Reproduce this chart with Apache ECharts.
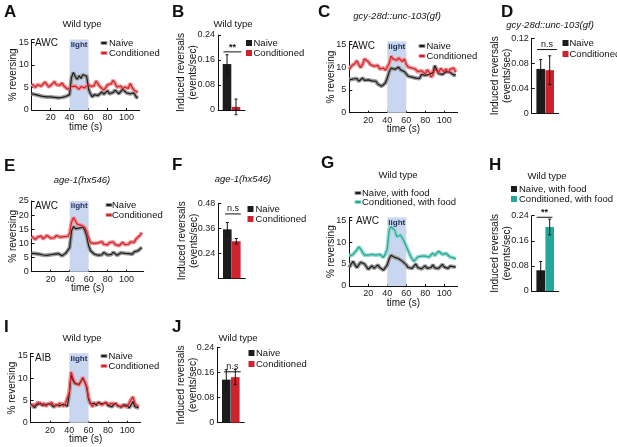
<!DOCTYPE html>
<html><head><meta charset="utf-8">
<script src="https://cdn.jsdelivr.net/npm/echarts@6/dist/echarts.min.js"></script>
<style>html,body{margin:0;padding:0;background:#fff}#c{width:617px;height:447px}</style>
</head><body><div id="c"></div><script>
// ---------- data ----------
const STEP = 2; // seconds between samples
const lightPeriod = [40, 60];
const xTickLabels = [20, 40, 60, 80, 100];

const naiveA = [3.6,3.8,3.4,3.0,3.2,2.8,3.0,3.3,2.9,2.7,2.9,2.6,2.8,2.6,2.7,2.5,2.8,2.6,3.0,3.2,3.4,7.2,8.3,7.4,6.8,7.6,7.0,7.8,8.2,7.5,4.6,3.6,2.9,3.4,3.8,3.2,3.6,4.0,3.5,3.9,4.3,3.6,3.3,3.9,4.4,4.0,3.6,3.9,4.6,4.2,3.8,4.1,3.6,3.3,3.8,3.0,2.6];
const condA  = [5.8,5.4,5.0,5.6,5.9,5.3,5.5,6.2,5.7,5.1,5.4,5.8,6.3,5.6,5.2,5.5,6.0,5.3,4.9,4.6,4.8,5.2,4.9,5.3,5.0,4.6,5.2,5.5,4.9,5.3,5.7,5.2,4.8,5.4,6.4,5.8,5.2,4.8,4.4,4.9,5.6,5.2,5.8,6.6,5.9,5.1,4.8,5.3,4.6,5.1,5.5,4.8,5.9,5.0,4.4,4.8,3.9];

const naiveC = [7.2,6.8,7.4,7.0,7.5,6.9,7.3,7.6,7.1,6.8,7.2,7.5,7.0,6.6,6.9,6.3,6.0,5.8,6.2,6.5,7.6,9.0,9.8,10.2,9.5,9.8,10.0,9.4,9.6,9.0,8.6,8.0,8.2,7.8,8.1,7.6,7.2,7.5,8.4,8.8,8.2,7.9,8.4,8.0,8.8,10.3,9.5,8.6,8.9,8.4,8.8,9.0,8.6,8.9,8.5,8.2,8.4];
const condC  = [9.5,10.2,9.8,10.8,11.4,10.5,9.9,10.6,11.8,12.0,11.2,10.6,10.9,10.2,9.8,10.4,9.6,9.4,9.8,9.3,9.0,10.8,12.4,11.8,12.1,11.5,12.0,11.6,11.2,11.8,10.6,10.0,10.4,9.8,10.2,9.5,9.0,8.7,9.2,8.8,8.5,9.4,8.9,7.8,8.3,9.6,9.2,8.8,9.7,9.4,9.0,9.6,8.8,9.5,9.2,9.8,8.9];

const naiveE = [6.5,7.2,6.4,5.8,6.2,5.6,5.9,6.3,5.8,5.5,6.0,5.7,6.2,5.8,6.4,6.1,5.6,6.0,6.6,6.2,8.5,14.5,16.0,15.2,14.6,15.4,14.8,15.8,14.6,12.5,9.2,7.4,6.8,6.2,6.6,5.8,6.3,6.0,6.8,6.4,5.9,6.5,6.1,6.9,6.3,5.8,6.2,6.7,6.1,6.5,5.9,6.4,6.8,6.2,7.0,6.6,7.4,7.9,8.6];
const condE  = [12.5,12.0,11.4,12.2,11.8,12.6,11.6,12.0,12.8,12.3,11.9,12.4,12.0,12.8,13.0,12.2,11.8,12.4,12.0,12.5,13.5,17.5,19.2,18.0,16.8,17.2,16.4,17.0,15.6,14.2,11.8,10.2,9.6,10.0,9.4,10.2,9.8,10.6,9.7,10.1,9.5,10.3,9.8,10.5,9.6,10.0,9.2,9.8,10.4,9.6,10.2,9.7,10.5,11.2,10.4,11.6,12.0,12.8,13.8];

const naiveG = [4.2,5.0,5.6,4.8,4.2,4.6,5.4,5.8,5.0,4.4,3.8,4.2,4.6,4.0,4.4,4.8,4.2,3.9,3.6,3.4,4.8,6.2,7.0,6.8,6.5,6.7,6.2,6.0,5.6,5.2,4.8,4.2,4.6,4.0,4.5,5.0,4.2,4.4,3.9,4.3,4.6,4.0,4.4,4.2,4.8,4.1,4.5,4.0,4.4,4.9,4.3,4.6,4.0,4.5,4.8,4.4,4.2];
const condG  = [6.8,6.5,7.2,7.6,8.2,8.9,8.4,7.6,7.0,7.3,7.0,6.6,7.2,7.5,7.0,6.8,7.2,6.9,6.5,7.3,8.5,12.8,13.5,13.2,12.6,11.2,11.0,11.6,10.8,10.0,9.0,8.0,7.0,6.2,5.6,6.0,6.6,6.2,6.8,6.4,6.8,7.2,6.6,7.0,7.5,6.9,7.4,7.9,7.6,7.2,6.8,7.4,7.0,6.6,6.9,6.4,6.1];

const naiveI = [4.2,3.8,3.4,4.0,3.6,4.4,3.9,3.5,4.1,3.8,4.3,3.9,3.5,4.0,4.4,3.8,3.6,4.2,3.9,3.7,6.5,10.8,9.4,8.8,9.0,8.6,9.0,10.0,9.2,8.0,5.2,4.2,3.8,4.4,3.9,4.6,5.0,4.2,3.8,4.5,3.9,4.2,3.6,4.0,4.4,3.8,4.1,3.5,4.0,3.7,3.9,3.3,4.0,4.8,3.6,4.0,3.3];
const condI  = [4.0,4.4,3.9,4.2,4.6,4.1,3.8,4.3,3.7,4.2,4.0,4.5,3.8,4.2,3.9,4.4,4.0,3.7,4.3,3.9,6.8,11.4,9.8,9.0,8.8,8.4,9.2,10.2,9.2,8.2,5.6,4.4,3.6,4.2,4.0,4.4,4.8,4.0,4.2,4.6,4.1,3.8,4.3,3.9,4.2,4.0,3.7,4.1,3.8,4.2,3.6,4.4,5.2,5.8,4.2,3.8,3.5];

// bar panels: [naive, conditioned] means and error
const barB = [0.147, 0.010], errB = [0.030, 0.025], sigB = [0.6, 2.6, 0.186];
const barD = [0.071, 0.069], errD = [0.015, 0.023], sigD = [0.6, 2.8, 0.102];
const barF = [0.355, 0.298], errF = [0.033, 0.013], sigF = [0.75, 2.5, 0.429];
const barH = [0.066, 0.204], errH = [0.028, 0.025], sigH = [0.55, 2.3, 0.235];
const barJ = [0.137, 0.145], errJ = [0.032, 0.024], sigJ = [0.75, 2.6, 0.162];

// ---------- style ----------
const FONT = '"Liberation Sans", Arial, Helvetica, sans-serif';
const BLACK = '#1c1c1c', BLACK_BAND = '#9c9c9c';
const RED = '#d0222e', RED_BAND = '#ee9494';
const TEAL = '#22a898', TEAL_BAND = '#98d9cf';
const LIGHT = '#c8d6ef';

const linePanels = [
  {g:[31.7, 39.6, 108, 70.4], xmax:114, ymax:15.6, naive:naiveA, cond:condA, cc:RED, cb:RED_BAND},
  {g:[349.3, 41.6, 108.3, 71.1], xmax:114, ymax:15.6, naive:naiveC, cond:condC, cc:RED, cb:RED_BAND},
  {g:[31.7, 201, 112, 70.7], xmax:118, ymax:25, naive:naiveE, cond:condE, cc:RED, cb:RED_BAND},
  {g:[349.3, 217.4, 108.3, 68.6], xmax:114, ymax:15.6, naive:naiveG, cond:condG, cc:TEAL, cb:TEAL_BAND},
  {g:[30.7, 353.3, 110, 69.4], xmax:114, ymax:15.6, naive:naiveI, cond:condI, cc:RED, cb:RED_BAND}
];
const barPanels = [
  {g:[218, 35, 27, 75], min:0, max:0.24, iv:0.08, vals:barB, errs:errB, sig:sigB, sigText:'**', cc:RED},
  {g:[531.7, 38.3, 27, 75], min:0, max:0.12, iv:0.04, vals:barD, errs:errD, sig:sigD, sigText:'n.s', cc:RED},
  {g:[218.3, 203.3, 27, 75], min:0.12, max:0.48, iv:0.12, vals:barF, errs:errF, sig:sigF, sigText:'n.s', cc:RED, hideMin:true},
  {g:[531.7, 215.7, 27, 75.3], min:0, max:0.24, iv:0.08, vals:barH, errs:errH, sig:sigH, sigText:'**', cc:TEAL},
  {g:[217.3, 347.3, 27, 75.4], min:0, max:0.24, iv:0.08, vals:barJ, errs:errJ, sig:sigJ, sigText:'n.s', cc:RED}
];

const grids = [], xAxes = [], yAxes = [], series = [], graphics = [];
const axLine = {show:true, onZero:false, lineStyle:{color:'#111', width:1}};

function txt(x, y, s, size, opt) {
  opt = opt || {};
  const font = (opt.italic ? 'italic ' : '') + (opt.bold ? 'bold ' : '') + size + 'px ' + FONT;
  graphics.push({type:'text', x:x, y:y, silent:true, z:10,
    style:{text:s, fill:opt.color || '#111', font:font,
      textAlign:opt.align || 'left', textVerticalAlign:'middle', align:opt.align || 'left', verticalAlign:'middle'}});
}
function rect(x, y, w, h, fill, stroke) {
  graphics.push({type:'rect', silent:true, z:10, shape:{x:x, y:y, width:w, height:h},
    style:{fill:fill, stroke:stroke || null, lineWidth:stroke ? 1 : 0}});
}

linePanels.forEach(p => {
  const gi = grids.length;
  grids.push({left:p.g[0], top:p.g[1], width:p.g[2], height:p.g[3], containLabel:false, outerBoundsMode:'none'});
  xAxes.push({gridIndex:gi, type:'value', min:0, max:p.xmax, interval:20,
    name:'time (s)', nameLocation:'middle', nameGap:12, nameMoveOverlap:false,
    nameTextStyle:{fontSize:10, color:'#111', fontFamily:FONT},
    axisLine:axLine, axisTick:{show:true, inside:true, length:2, lineStyle:{color:'#111'}},
    axisLabel:{fontSize:9, color:'#222', margin:3, fontFamily:FONT, showMinLabel:false, showMaxLabel:false,
      formatter:v => xTickLabels.indexOf(v) >= 0 ? String(v) : ''},
    splitLine:{show:false}});
  yAxes.push({gridIndex:gi, type:'value', min:0, max:p.ymax, interval:5,
    name:'% reversing', nameLocation:'middle', nameGap:13, nameMoveOverlap:false,
    nameTextStyle:{fontSize:10, color:'#111', fontFamily:FONT},
    axisLine:axLine, axisTick:{show:true, inside:true, length:3, lineStyle:{color:'#111'}},
    axisLabel:{fontSize:9, color:'#222', margin:3, fontFamily:FONT,
      formatter:v => (Math.abs(v % 5) < 1e-9) ? String(v) : ''},
    splitLine:{show:false}});
  const mk = d => d.map((v, k) => [k * STEP, v]);
  series.push({type:'line', xAxisIndex:gi, yAxisIndex:gi, data:mk(p.naive), symbol:'none', silent:true, z:1,
    lineStyle:{width:0, opacity:0},
    markArea:{silent:true, itemStyle:{color:LIGHT},
      label:{show:true, position:'insideTop', distance:1, formatter:'light', fontSize:8, fontWeight:'bold', color:'#1c2b57', fontFamily:FONT},
      data:[[{xAxis:lightPeriod[0]}, {xAxis:lightPeriod[1]}]]}});
  [[p.naive, BLACK, BLACK_BAND], [p.cond, p.cc, p.cb]].forEach(([d, c, b]) => {
    series.push({type:'line', xAxisIndex:gi, yAxisIndex:gi, data:mk(d), symbol:'none', silent:true, z:2,
      lineStyle:{width:4, color:b}});
    series.push({type:'line', xAxisIndex:gi, yAxisIndex:gi, data:mk(d), symbol:'none', silent:true, z:3,
      lineStyle:{width:1.2, color:c}});
  });
});

barPanels.forEach(p => {
  const gi = grids.length;
  grids.push({left:p.g[0], top:p.g[1], width:p.g[2], height:p.g[3], containLabel:false, outerBoundsMode:'none'});
  xAxes.push({gridIndex:gi, type:'value', min:0, max:3, axisLine:axLine, axisTick:{show:false},
    axisLabel:{show:false}, splitLine:{show:false}});
  yAxes.push({gridIndex:gi, type:'value', min:p.min, max:p.max, interval:p.iv,
    name:'Induced reversals\n(events/sec)', nameLocation:'middle', nameGap:18.5, nameMoveOverlap:false,
    nameTextStyle:{fontSize:10, lineHeight:12, color:'#111', fontFamily:FONT},
    axisLine:axLine, axisTick:{show:true, inside:true, length:3, lineStyle:{color:'#111'}},
    axisLabel:{fontSize:9, color:'#222', margin:3, fontFamily:FONT, showMinLabel:!p.hideMin},
    splitLine:{show:false}});
  series.push({type:'bar', xAxisIndex:gi, yAxisIndex:gi, barWidth:8.6, silent:true, z:2,
    data:[{value:[1, p.vals[0]], itemStyle:{color:BLACK}}, {value:[2, p.vals[1]], itemStyle:{color:p.cc}}]});
  series.push({type:'custom', xAxisIndex:gi, yAxisIndex:gi, silent:true, z:4, clip:false,
    data:[[1, p.vals[0], p.errs[0]], [2, p.vals[1], p.errs[1]]],
    renderItem:(params, api) => {
      const x = api.value(0), v = api.value(1), e = api.value(2);
      const t = api.coord([x, v + e]), b = api.coord([x, v - e]);
      const st = {stroke:'#111', lineWidth:1};
      return {type:'group', children:[
        {type:'line', shape:{x1:t[0], y1:t[1], x2:b[0], y2:b[1]}, style:st},
        {type:'line', shape:{x1:t[0]-1.5, y1:t[1], x2:t[0]+1.5, y2:t[1]}, style:st},
        {type:'line', shape:{x1:b[0]-1.5, y1:b[1], x2:b[0]+1.5, y2:b[1]}, style:st}
      ]};
    }});
  series.push({type:'custom', xAxisIndex:gi, yAxisIndex:gi, silent:true, z:4, clip:false,
    data:[p.sig],
    renderItem:(params, api) => {
      const a = api.coord([api.value(0), api.value(2)]), b = api.coord([api.value(1), api.value(2)]);
      return {type:'group', children:[
        {type:'line', shape:{x1:a[0], y1:a[1], x2:b[0], y2:b[1]}, style:{stroke:'#111', lineWidth:1}},
        {type:'text', x:(a[0]+b[0])/2, y:a[1] - (p.sigText === '**' ? 0 : 1),
          style:{text:p.sigText, fill:'#111', font:(p.sigText === '**' ? 'bold 9px ' : '9px ') + FONT,
            textAlign:'center', textVerticalAlign:'bottom', align:'center', verticalAlign:'bottom'}}
      ]};
    }});
});

// ---------- panel letters, titles, labels, legends ----------
[['A',4,12],['B',172,12],['C',318,12],['D',501,12],['E',4,166],['F',172,165],['G',321,163],['H',489,165],['I',4,327],['J',172,327]]
  .forEach(([s,x,y]) => txt(x, y, s, 17, {bold:true}));

[['Wild type',82,24,false],['Wild type',233,24,false],['gcy-28d::unc-103(gf)',397,16,true],['gcy-28d::unc-103(gf)',550,25,true],
 ['age-1(hx546)',82,180,true],['age-1(hx546)',243,179,true],['Wild type',398,175,false],['Wild type',547,176,false],
 ['Wild type',82,338,false],['Wild type',238,338,false]]
  .forEach(([s,x,y,it]) => txt(x, y, s, 9.5, {align:'center', italic:it}));

[['AWC',35,43.5],['AWC',352,46],['AWC',35,206.5],['AWC',356,221],['AIB',35,358]]
  .forEach(([s,x,y]) => txt(x, y, s, 10));

function legend(mx, tx, ys, labels, colors, bands, kind) {
  labels.forEach((l, k) => {
    if (kind === 'line') rect(mx, ys[k] - 1.5, 6, 3, colors[k], bands[k]);
    else rect(mx, ys[k] - 3, 6, 6, colors[k]);
    txt(tx, ys[k], l, 9.5);
  });
}
const NC = ['Naive', 'Conditioned'];
const NCF = ['Naive, with food', 'Conditioned, with food'];
legend(101, 109, [43,53], NC, [BLACK, RED], [BLACK_BAND, RED_BAND], 'line');
legend(246, 253.5, [43,53], NC, [BLACK, RED], null, 'bar');
legend(419, 426.5, [46,56], NC, [BLACK, RED], [BLACK_BAND, RED_BAND], 'line');
legend(562.5, 569.5, [43,54], NC, [BLACK, RED], null, 'bar');
legend(106, 112, [205,215], NC, [BLACK, RED], [BLACK_BAND, RED_BAND], 'line');
legend(247.5, 255.5, [209,219], NC, [BLACK, RED], null, 'bar');
legend(355, 362, [193,202], NCF, [BLACK, TEAL], [BLACK_BAND, TEAL_BAND], 'line');
legend(511, 519, [189,199], NCF, [BLACK, TEAL], null, 'bar');
legend(101, 108.5, [356,366], NC, [BLACK, RED], [BLACK_BAND, RED_BAND], 'line');
legend(248.5, 256, [353,364], NC, [BLACK, RED], null, 'bar');

const chart = echarts.init(document.getElementById('c'), null, {renderer:'canvas'});
chart.setOption({
  animation:false,
  backgroundColor:'#ffffff',
  textStyle:{fontFamily:FONT},
  grid:grids, xAxis:xAxes, yAxis:yAxes, series:series, graphic:graphics
});
</script></body></html>
